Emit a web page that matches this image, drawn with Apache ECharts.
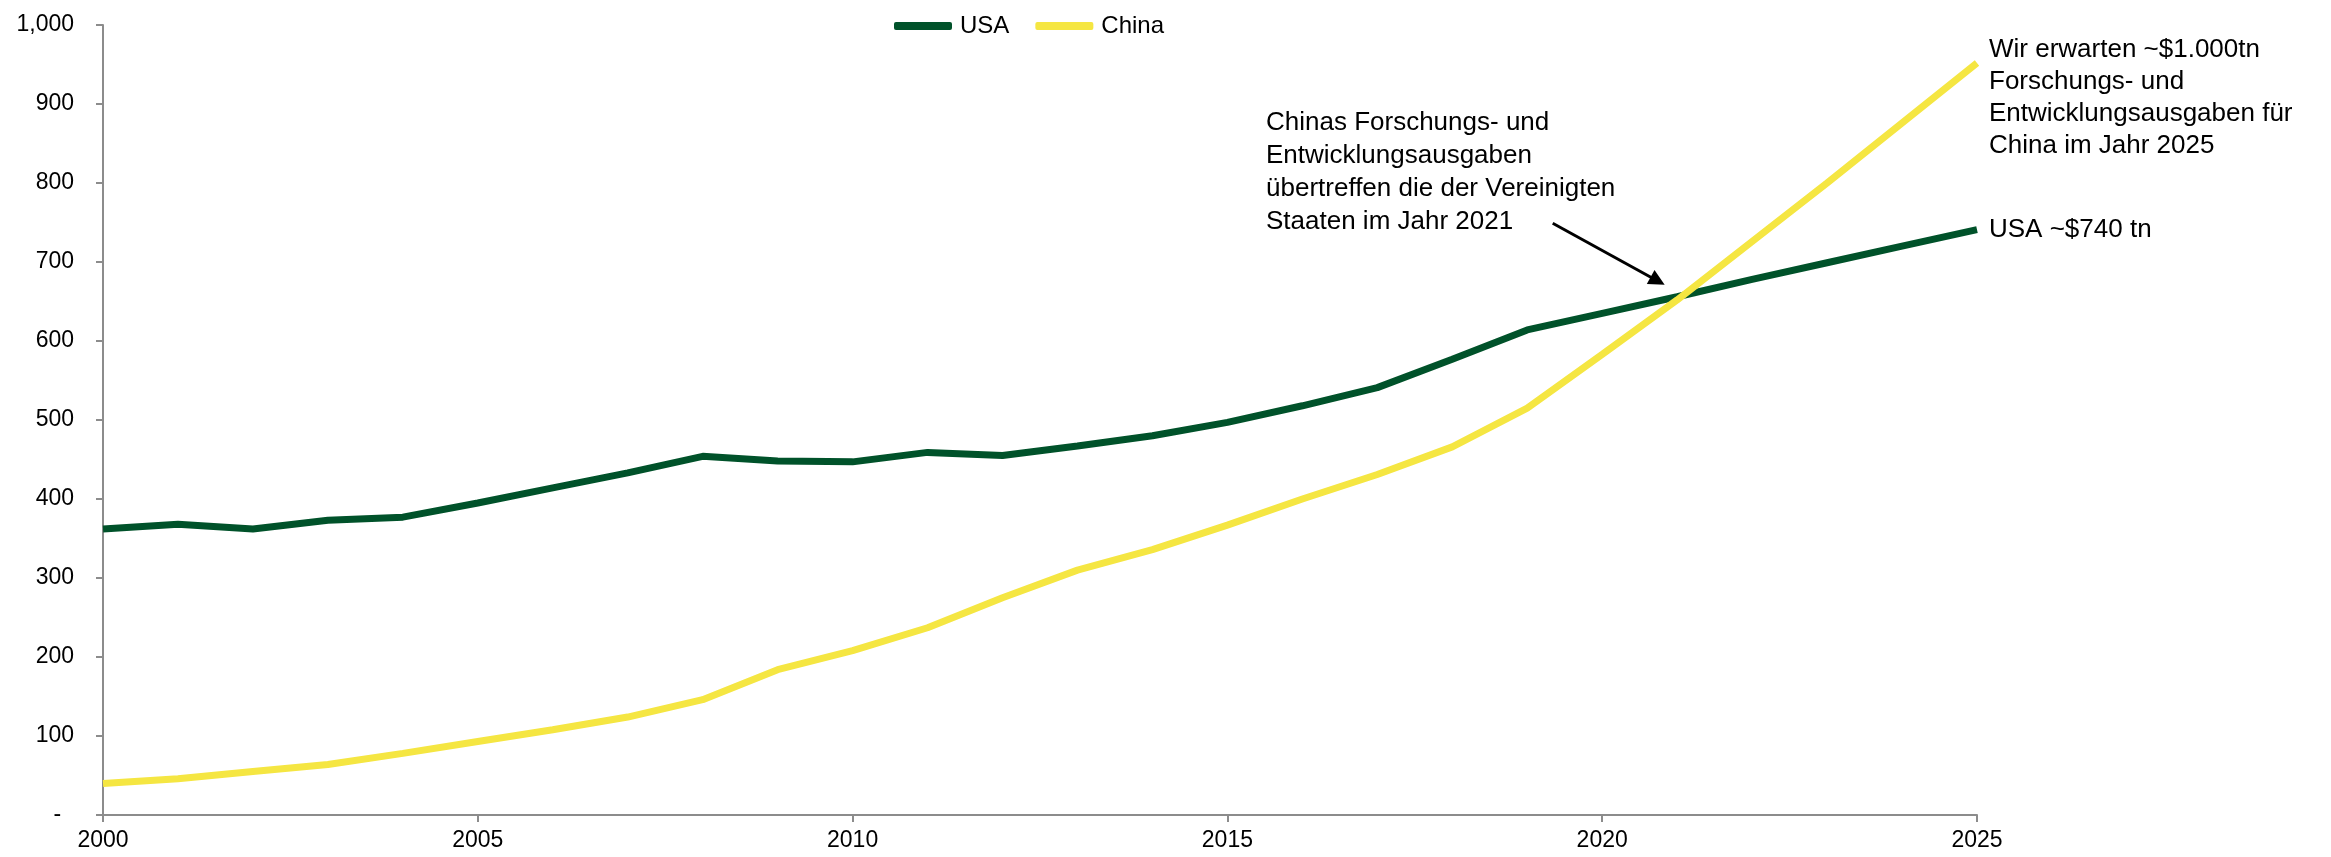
<!DOCTYPE html>
<html>
<head>
<meta charset="utf-8">
<script src="https://cdn.jsdelivr.net/npm/echarts@6/dist/echarts.min.js"></script>
<style>
html,body{margin:0;padding:0;background:#fff;}
#chart{width:2331px;height:857px;}
</style>
</head>
<body>
<div id="chart"></div>
<script>
const years = [2000,2001,2002,2003,2004,2005,2006,2007,2008,2009,2010,2011,2012,2013,2014,2015,2016,2017,2018,2019,2020,2021,2022,2023,2024,2025];
const usa = [362,368,362,373,377,395,414,433,454,448,447,459,455,467,480,497,518,541,577,614,635,656,678,699,720,741];
const china = [40,46,55,64,78,93,108,124,146,184,208,237,275,310,336,367,400,431,466,515,583,652,726,800,876,952];
const seriesNames = ['USA','China'];
const yTicks = [0,100,200,300,400,500,600,700,800,900,1000];
const xTicks = [2000,2005,2010,2015,2020,2025];
const noteCross = 'Chinas Forschungs- und\nEntwicklungsausgaben\nübertreffen die der Vereinigten\nStaaten im Jahr 2021';
const noteChina = 'Wir erwarten ~$1.000tn\nForschungs- und\nEntwicklungsausgaben für\nChina im Jahr 2025';
const noteUsa = 'USA ~$740 tn';
const arrowFrom = [2019.34, 749];
const arrowTo = [2020.74, 676];

const FONT = '"Liberation Sans", Arial, Helvetica, sans-serif';
const GREEN = '#00522A';
const YELLOW = '#F5E642';
const AXIS = '#8C8C8C';

const chart = echarts.init(document.getElementById('chart'), null, {renderer:'canvas'});
const pair = arr => years.map((y,i)=>[y, arr[i]]);

chart.setOption({
  animation:false,
  backgroundColor:'#fff',
  textStyle:{fontFamily:FONT},
  grid:{left:103, right:354, top:25, bottom:42, containLabel:false},
  legend:{
    left:889, top:9,
    itemWidth:58, itemHeight:8, itemGap:26,
    icon:'roundRect',
    textStyle:{fontSize:24, color:'#000', fontFamily:FONT, padding:[0,0,0,3]},
    data:seriesNames
  },
  xAxis:{
    type:'value', min:xTicks[0], max:xTicks[xTicks.length-1], interval:5,
    axisLine:{show:true, lineStyle:{color:AXIS, width:2}},
    axisTick:{show:true, length:7, lineStyle:{color:AXIS, width:2}},
    splitLine:{show:false},
    axisLabel:{fontSize:23, color:'#000', margin:14, fontFamily:FONT, formatter:v=>String(v)}
  },
  yAxis:{
    type:'value', min:yTicks[0], max:yTicks[yTicks.length-1], interval:100,
    axisLine:{show:true, lineStyle:{color:AXIS, width:2}},
    axisTick:{show:true, length:7, lineStyle:{color:AXIS, width:2}},
    splitLine:{show:false},
    axisLabel:{fontSize:23, color:'#000', margin:29, fontFamily:FONT,
      formatter:v=> v===0 ? '-  ' : v.toLocaleString('en-US')}
  },
  series:[
    {
      name:seriesNames[0], type:'line', data:pair(usa),
      symbol:'none', smooth:false,
      lineStyle:{color:GREEN, width:7},
      itemStyle:{color:GREEN},
      z:2,
      endLabel:{show:true, formatter:noteUsa, distance:12, fontSize:26, color:'#000', fontFamily:FONT},
      markLine:{
        silent:true, animation:false,
        symbol:['none','triangle'], symbolSize:[16,16],
        label:{show:false},
        lineStyle:{color:'#000', width:3, type:'solid'},
        data:[[{coord:arrowFrom},{coord:arrowTo}]]
      }
    },
    {
      name:seriesNames[1], type:'line', data:pair(china),
      symbol:'none', smooth:false,
      lineStyle:{color:YELLOW, width:7},
      itemStyle:{color:YELLOW},
      z:3
    }
  ],
  graphic:[
    {type:'text', left:1266, top:106, z:10,
     style:{text:noteCross, font:'26px '+FONT, fill:'#000', lineHeight:33}},
    {type:'text', left:1989, top:34, z:10,
     style:{text:noteChina, font:'26px '+FONT, fill:'#000', lineHeight:32}}
  ]
});
</script>
</body>
</html>
